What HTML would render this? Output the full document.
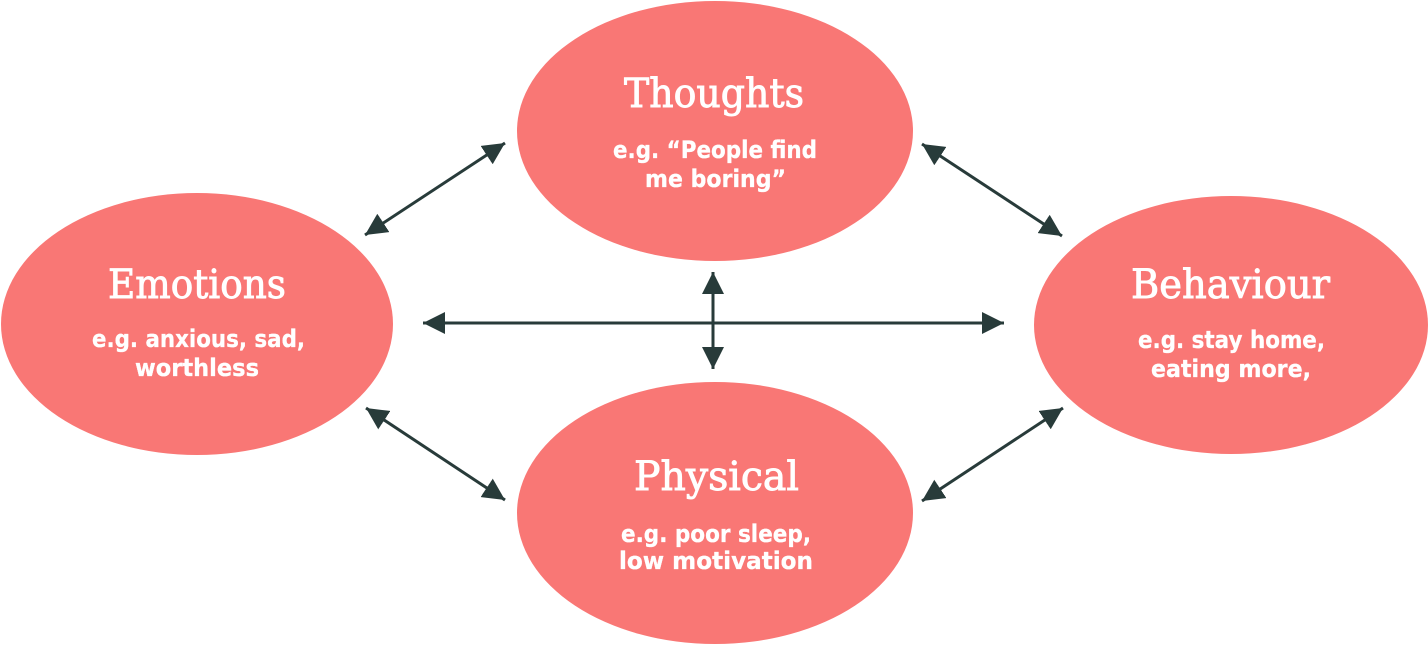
<!DOCTYPE html>
<html>
<head>
<meta charset="utf-8">
<style>
  html, body { margin: 0; padding: 0; background: #ffffff; }
  svg { display: block; }
  .t { font-family: "DejaVu Serif", "Liberation Serif", serif; font-size: 40px; fill: #ffffff; stroke: #ffffff; stroke-width: 0.9px; }
  .s { font-family: "DejaVu Sans", "Liberation Sans", sans-serif; font-weight: bold; font-size: 24px; fill: #ffffff; stroke: #ffffff; stroke-width: 0.3px; }
</style>
</head>
<body>
<svg width="1428" height="645" viewBox="0 0 1428 645" xmlns="http://www.w3.org/2000/svg">
  <defs>
    <marker id="ah" viewBox="0 0 22 22" refX="22" refY="11" markerWidth="22" markerHeight="22" markerUnits="userSpaceOnUse" orient="auto-start-reverse">
      <path d="M0,0 L22,11 L0,22 z" fill="#283b3a"/>
    </marker>
  </defs>
  <rect width="1428" height="645" fill="#ffffff"/>

  <!-- Ellipses -->
  <ellipse cx="715" cy="131" rx="198" ry="130" fill="#f97775"/>
  <ellipse cx="197" cy="324" rx="196" ry="131" fill="#f97775"/>
  <ellipse cx="1231" cy="325" rx="197" ry="129" fill="#f97775"/>
  <ellipse cx="715" cy="513" rx="198" ry="131" fill="#f97775"/>

  <!-- Connectors -->
  <g stroke="#283b3a" stroke-width="3" fill="none">
    <line x1="365" y1="235" x2="505" y2="143" marker-start="url(#ah)" marker-end="url(#ah)"/>
    <line x1="922" y1="144" x2="1062" y2="236" marker-start="url(#ah)" marker-end="url(#ah)"/>
    <line x1="366" y1="408" x2="505" y2="500" marker-start="url(#ah)" marker-end="url(#ah)"/>
    <line x1="922" y1="501" x2="1063" y2="408" marker-start="url(#ah)" marker-end="url(#ah)"/>
    <line x1="423" y1="323" x2="1004" y2="323" marker-start="url(#ah)" marker-end="url(#ah)"/>
    <line x1="713" y1="272" x2="713" y2="369" marker-start="url(#ah)" marker-end="url(#ah)"/>
  </g>

  <!-- Thoughts -->
  <text class="t" x="714" y="107" text-anchor="middle" textLength="180" lengthAdjust="spacingAndGlyphs">Thoughts</text>
  <text class="s" x="715" y="158" text-anchor="middle" textLength="204" lengthAdjust="spacingAndGlyphs">e.g. “People find</text>
  <text class="s" x="715.5" y="187" text-anchor="middle" textLength="141" lengthAdjust="spacingAndGlyphs">me boring”</text>

  <!-- Emotions -->
  <text class="t" x="197" y="298" text-anchor="middle" textLength="178" lengthAdjust="spacingAndGlyphs">Emotions</text>
  <text class="s" x="198.5" y="347" text-anchor="middle" textLength="213" lengthAdjust="spacingAndGlyphs">e.g. anxious, sad,</text>
  <text class="s" x="197" y="376" text-anchor="middle" textLength="124" lengthAdjust="spacingAndGlyphs">worthless</text>

  <!-- Behaviour -->
  <text class="t" x="1230.5" y="298" text-anchor="middle" textLength="199" lengthAdjust="spacingAndGlyphs">Behaviour</text>
  <text class="s" x="1231.5" y="348" text-anchor="middle" textLength="187" lengthAdjust="spacingAndGlyphs">e.g. stay home,</text>
  <text class="s" x="1231" y="377" text-anchor="middle" textLength="160" lengthAdjust="spacingAndGlyphs">eating more,</text>

  <!-- Physical -->
  <text class="t" x="716.5" y="490" text-anchor="middle" textLength="165" lengthAdjust="spacingAndGlyphs">Physical</text>
  <text class="s" x="716" y="542" text-anchor="middle" textLength="190" lengthAdjust="spacingAndGlyphs">e.g. poor sleep,</text>
  <text class="s" x="716" y="569" text-anchor="middle" textLength="194" lengthAdjust="spacingAndGlyphs">low motivation</text>
</svg>
</body>
</html>
